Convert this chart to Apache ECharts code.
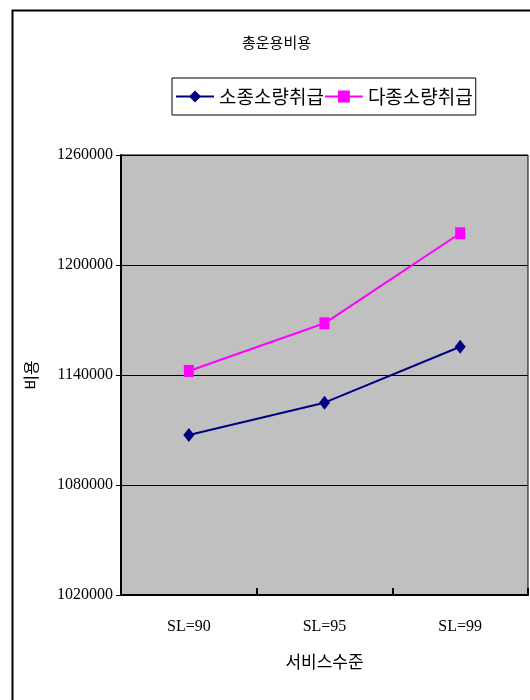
<!DOCTYPE html>
<html><head><meta charset="utf-8">
<script src="https://cdn.jsdelivr.net/npm/echarts@6/dist/echarts.min.js"></script>
<style>html,body{margin:0;padding:0;background:#fff}#c{width:530px;height:700px}</style>
</head><body><div id="c"></div>
<script>
const categories = ['SL=90', 'SL=95', 'SL=99'];
const seriesNames = ['소종소량취급', '다종소량취급'];
const smallVariety = [1107300, 1124900, 1155400];
const multiVariety = [1142200, 1168200, 1217300];
const yMin = 1020000, yMax = 1260000, yStep = 60000;

const chart = echarts.init(document.getElementById('c'), null, {renderer: 'canvas'});
const serifKR = '"Liberation Serif", "Noto Sans CJK KR", serif';
chart.setOption({
  animation: false,
  backgroundColor: '#fff',
  graphic: [{
    type: 'rect', left: 10, top: 8, shape: {x: 0, y: 0, width: 540, height: 710},
    style: {fill: 'none', stroke: '#000', lineWidth: 2}, z: -1
  }],
  title: {
    text: '총운용비용', left: 237, top: 30,
    textStyle: {fontFamily: '"Noto Sans CJK KR"', fontSize: 15, fontWeight: 'normal', color: '#000'}
  },
  legend: {
    data: seriesNames, left: 172, top: 78,
    borderColor: '#000', borderWidth: 1, padding: [9, 3, 9, 3],
    itemWidth: 38, itemHeight: 15, itemGap: 0,
    textStyle: {fontFamily: '"Noto Sans CJK KR"', fontSize: 19, color: '#000'}
  },
  grid: {
    left: 121, right: 2, top: 155, bottom: 105,
    show: true, backgroundColor: '#c0c0c0', borderColor: '#000', borderWidth: 1
  },
  xAxis: {
    type: 'category', data: categories, boundaryGap: true,
    name: '서비스수준', nameLocation: 'middle', nameGap: 58,
    nameTextStyle: {fontFamily: '"Noto Sans CJK KR"', fontSize: 17, color: '#000'},
    axisLine: {lineStyle: {color: '#000', width: 2}},
    axisTick: {show: true, inside: true, length: 7, lineStyle: {color: '#000', width: 2}},
    axisLabel: {margin: 24, fontFamily: serifKR, fontSize: 16, color: '#000'},
    splitLine: {show: false}
  },
  yAxis: {
    type: 'value', min: yMin, max: yMax, interval: yStep,
    name: '비용', nameLocation: 'middle', nameGap: 82, nameRotate: 90,
    nameTextStyle: {fontFamily: '"Noto Sans CJK KR"', fontSize: 16, color: '#000'},
    axisLine: {show: true, lineStyle: {color: '#000', width: 2}},
    axisTick: {show: true, length: 5, lineStyle: {color: '#000', width: 1}},
    axisLabel: {margin: 8, fontFamily: serifKR, fontSize: 16, color: '#000', formatter: v => String(v)},
    splitLine: {show: true, lineStyle: {color: '#000', width: 1}}
  },
  series: [
    {
      name: seriesNames[0], type: 'line', data: smallVariety,
      symbol: 'diamond', symbolSize: [11, 14], color: '#000080',
      lineStyle: {color: '#000080', width: 2}, itemStyle: {color: '#000080'}
    },
    {
      name: seriesNames[1], type: 'line', data: multiVariety,
      symbol: 'rect', symbolSize: [10, 12], color: '#ff00ff',
      lineStyle: {color: '#ff00ff', width: 2}, itemStyle: {color: '#ff00ff'}
    }
  ]
});
</script></body></html>
